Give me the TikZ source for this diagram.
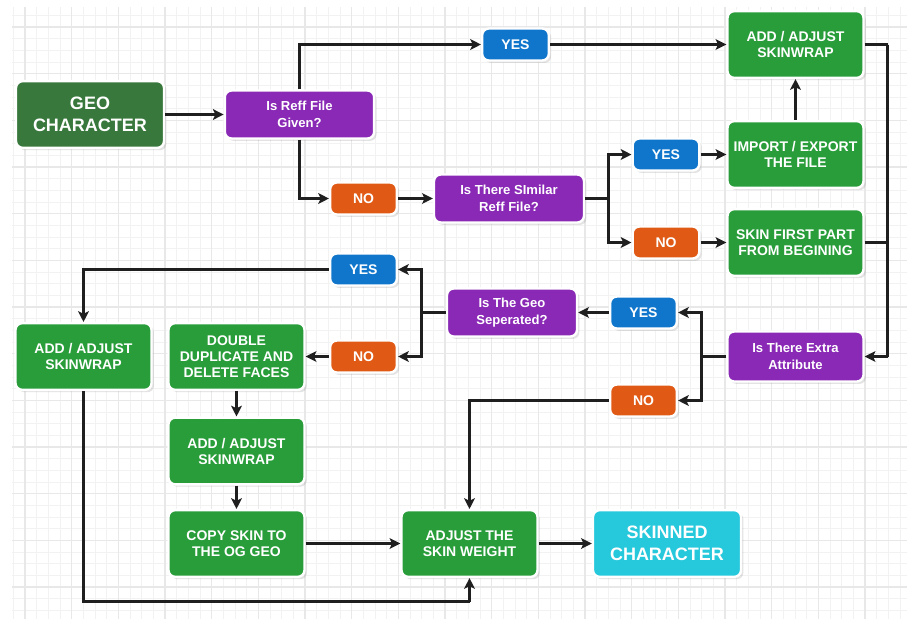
\documentclass[tikz,border=0pt]{standalone}
\usepackage{fontspec}
\setmainfont{Liberation Sans}
\usetikzlibrary{arrows.meta,shadows}
\definecolor{geogreen}{RGB}{56,120,60}
\definecolor{taskgreen}{RGB}{40,157,58}
\definecolor{askpurple}{RGB}{137,41,181}
\definecolor{yesblue}{RGB}{16,118,204}
\definecolor{noorange}{RGB}{224,90,22}
\definecolor{donecyan}{RGB}{38,200,220}
\tikzset{
flow/.style={x=0.75pt,y=-0.75pt,>={Stealth[length=8pt,width=8pt,inset=1.8pt]}},
link/.style={black!88,line width=2pt},
vh/.style={to path={|- (\tikztotarget)}},
hv/.style={to path={-| (\tikztotarget)}},
minor grid/.style={draw=black!5,line width=0.6pt},
major grid/.style={draw=black!9,line width=0.8pt},
box/.style={rectangle,rounded corners=5pt,draw=white,line width=1.8pt,
text=white,align=center,inner sep=2pt,
drop shadow={opacity=0.22,shadow xshift=1.8pt,shadow yshift=-1.8pt},
font=\bfseries\fontsize{10.5}{12}\selectfont},
task/.style={box,fill=taskgreen,minimum width=102pt,minimum height=50pt},
ask/.style={box,fill=askpurple,minimum width=#1,minimum height=36pt,
font=\bfseries\fontsize{9.8}{12.5}\selectfont},
ask/.default={102pt},
yes/.style={box,fill=yesblue,minimum width=50pt,minimum height=24pt},
no/.style={box,fill=noorange,minimum width=50pt,minimum height=24pt},
terminal/.style={box,minimum width=111pt,minimum height=50pt,
font=\bfseries\fontsize{13.5}{16.5}\selectfont},
}
\begin{document}
\begin{tikzpicture}[flow]
    \fill[white] (0,0) rectangle (907,619);
    \useasboundingbox (0,0) rectangle (907,619);
    \foreach \k in {-1,...,75}
        \draw[minor grid] ({25+\k*11.667},7) -- ({25+\k*11.667},619);
    \foreach \k in {-1,...,50}
        \draw[minor grid] (12,{27+\k*11.667}) -- (907,{27+\k*11.667});
    \foreach \k in {0,...,18}
        \draw[major grid] ({25+\k*46.667},7) -- ({25+\k*46.667},619);
    \foreach \k in {0,...,12}
        \draw[major grid] (12,{27+\k*46.667}) -- (907,{27+\k*46.667});

    \node[terminal,fill=geogreen] (geo) at (90,114.5) {GEO\\CHARACTER};
    \node[ask=112pt] (reff) at (299.5,114.5) {Is Reff File\\Given?};
    \node[yes] (yesA) at (515.5,44.5) {YES};
    \node[task] (addA) at (795.5,44.5) {ADD / ADJUST\\SKINWRAP};
    \node[no] (noA) at (363.5,198.5) {NO};
    \node[ask=112.5pt] (similar) at (509,198.5) {Is There SImilar\\Reff File?};
    \node[yes] (yesB) at (666,154.5) {YES};
    \node[no] (noB) at (666,242.5) {NO};
    \node[task] (import) at (795.5,154.5) {IMPORT / EXPORT\\THE FILE};
    \node[task] (first) at (795.5,242.5) {SKIN FIRST PART\\FROM BEGINING};
    \node[ask,minimum height=37.5pt] (extra) at (795.5,356.5) {Is There Extra\\Attribute};
    \node[yes] (yesC) at (643.5,312.5) {YES};
    \node[no] (noC) at (643.5,400.5) {NO};
    \node[ask=97.5pt] (sep) at (512,312.5) {Is The Geo\\Seperated?};
    \node[yes] (yesD) at (363.5,269.5) {YES};
    \node[no] (noD) at (363.5,356.5) {NO};
    \node[task] (double) at (236.5,356.5) {DOUBLE\\DUPLICATE AND\\DELETE FACES};
    \node[task] (addB) at (83.5,356.5) {ADD / ADJUST\\SKINWRAP};
    \node[task] (addC) at (236.5,451) {ADD / ADJUST\\SKINWRAP};
    \node[task] (copy) at (236.5,543.5) {COPY SKIN TO\\THE OG GEO};
    \node[task] (weight) at (469.5,543.5) {ADJUST THE\\SKIN WEIGHT};
    \node[terminal,fill=donecyan] (skinned) at (667,543.5) {SKINNED\\CHARACTER};

    \coordinate (splitA) at (608.5,198.5);
    \coordinate (busTop) at (887.5,44.5);
    \coordinate (busEnd) at (887.5,356.5);
    \coordinate (splitB) at (701.5,356.5);
    \coordinate (splitC) at (421.5,312.5);
    \coordinate (floor) at (469.5,601.5);

    \path[link,->] (geo) edge (reff);
    \path[link,->] (reff.north) edge[vh] (yesA.west);
    \path[link,->] (yesA) edge (addA);
    \path[link,->] (reff.south) edge[vh] (noA.west);
    \path[link,->] (noA) edge (similar);
    \path[link] (similar.east) edge (splitA);
    \path[link,->] (splitA) edge[vh] (yesB.west);
    \path[link,->] (splitA) edge[vh] (noB.west);
    \path[link,->] (yesB) edge (import);
    \path[link,->] (noB) edge (first);
    \path[link,->] (import) edge (addA);
    \path[link] (addA.east) edge (busTop);
    \path[link] (busTop) edge (busEnd);
    \path[link,->] (busEnd) edge (extra.east);
    \path[link] (first.east) edge (first.east -| busTop);
    \path[link] (extra.west) edge (splitB);
    \path[link,->] (splitB) edge[vh] (yesC.east);
    \path[link,->] (splitB) edge[vh] (noC.east);
    \path[link,->] (yesC) edge (sep);
    \path[link] (sep.west) edge (splitC);
    \path[link,->] (splitC) edge[vh] (yesD.east);
    \path[link,->] (splitC) edge[vh] (noD.east);
    \path[link,->] (noD) edge (double);
    \path[link,->] (yesD.west) edge[hv] (addB.north);
    \path[link,->] (noC.west) edge[hv] (weight.north);
    \path[link] (addB.south) edge[vh] (floor);
    \path[link,->] (floor) edge (weight.south);
    \path[link,->] (double) edge (addC);
    \path[link,->] (addC) edge (copy);
    \path[link,->] (copy) edge (weight);
    \path[link,->] (weight) edge (skinned);
\end{tikzpicture}
\end{document}
